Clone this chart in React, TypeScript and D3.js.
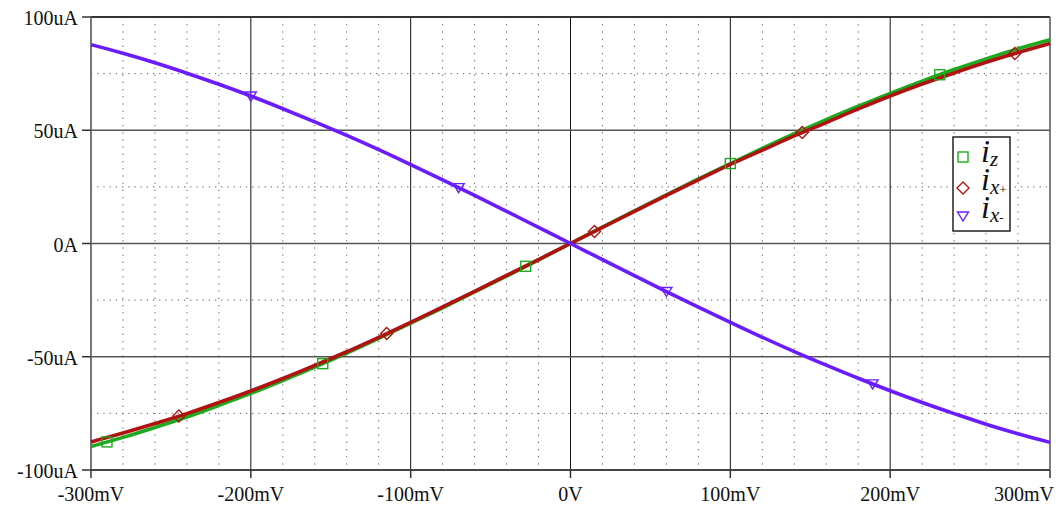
import React from "react";
import * as d3 from "d3";

// Sweep voltage (mV) and branch currents (uA)
const volts = [-300, -280, -260, -240, -220, -200, -180, -160, -140, -120, -100, -80, -60, -40, -20, 0, 20, 40, 60, 80, 100, 120, 140, 160, 180, 200, 220, 240, 260, 280, 300];
const iz = [-89.6, -85.6, -81.2, -76.6, -71.5, -66.2, -60.5, -54.6, -48.4, -41.9, -35.2, -28.4, -21.4, -14.4, -7.2, 0, 7.2, 14.4, 21.5, 28.5, 35.3, 42.0, 48.5, 54.7, 60.6, 66.3, 71.7, 76.8, 81.5, 86.0, 90.0];
const ixPlus = [-87.6, -83.7, -79.5, -75.1, -70.2, -65.1, -59.6, -53.8, -47.8, -41.4, -34.8, -28.0, -21.1, -14.1, -7.1, 0, 7.1, 14.2, 21.2, 28.1, 34.9, 41.2, 47.5, 53.4, 59.4, 65.1, 70.4, 75.3, 80.0, 84.3, 88.3];
const ixMinus = [87.8, 84.0, 79.8, 75.2, 70.3, 65.1, 59.5, 53.7, 47.7, 41.4, 34.8, 28.1, 21.2, 14.2, 7.1, 0, -7.1, -14.2, -21.2, -28.1, -34.8, -41.4, -47.7, -53.7, -59.5, -65.0, -70.2, -75.1, -79.8, -84.0, -87.8];

// Voltages where the trace symbols sit
const izMarks = [-290, -155, -28, 100, 231];
const ixPlusMarks = [-245, -115, 15, 145, 278];
const ixMinusMarks = [-200, -70, 60, 189];

const xTicks = [-300, -200, -100, 0, 100, 200, 300];
const xLabels = ["-300mV", "-200mV", "-100mV", "0V", "100mV", "200mV", "300mV"];
const yTicks = [-100, -50, 0, 50, 100];
const yLabels = ["-100uA", "-50uA", "0A", "50uA", "100uA"];
const xMinor = d3.range(-280, 300, 20).filter((v) => v % 100 !== 0);
const yMinor = [-75, -25, 25, 75];

const W = 1063;
const H = 507;
const L = 91;
const R = 1050;
const T = 17;
const B = 470;

const GREEN = "#1eaa1e";
const RED = "#b01212";
const PURPLE = "#6a1cff";
const FONT = "'Liberation Serif', 'Times New Roman', serif";

export default function App() {
  const x = d3.scaleLinear().domain([-300, 300]).range([L, R]);
  const y = d3.scaleLinear().domain([-100, 100]).range([B, T]);

  const line = (vals: number[]) =>
    d3
      .line<number>()
      .x((_, i) => x(volts[i]))
      .y((d) => y(d))
      .curve(d3.curveMonotoneX)(vals) || "";

  const at = (vals: number[]) => d3.scaleLinear().domain(volts).range(vals);

  const square = (cx: number, cy: number, key: string | number) => (
    <rect key={key} x={cx - 5} y={cy - 5} width={10} height={10} fill="none" stroke={GREEN} strokeWidth={1.4} />
  );
  const diamond = (cx: number, cy: number, key: string | number) => (
    <path key={key} d={`M${cx},${cy - 6}L${cx + 6},${cy}L${cx},${cy + 6}L${cx - 6},${cy}Z`} fill="none" stroke={RED} strokeWidth={1.4} />
  );
  const triangle = (cx: number, cy: number, key: string | number) => (
    <path key={key} d={`M${cx - 5.5},${cy - 4}L${cx + 5.5},${cy - 4}L${cx},${cy + 5}Z`} fill="none" stroke={PURPLE} strokeWidth={1.4} />
  );

  const izAt = at(iz);
  const ipAt = at(ixPlus);
  const imAt = at(ixMinus);

  return (
    <svg width={W} height={H} style={{ position: "absolute", left: 0, top: 0, background: "#fff" }} fontFamily={FONT}>
      <rect x={0} y={0} width={W} height={H} fill="#fff" />
      {/* minor dotted grid */}
      {xMinor.map((v) => (
        <line key={"xm" + v} x1={x(v)} x2={x(v)} y1={T} y2={B} stroke="#555" strokeWidth={1} strokeDasharray="1.2,6" />
      ))}
      {yMinor.map((v) => (
        <line key={"ym" + v} x1={L} x2={R} y1={y(v)} y2={y(v)} stroke="#555" strokeWidth={1} strokeDasharray="1.2,5" />
      ))}
      {/* major grid */}
      {xTicks.slice(1, -1).map((v) => (
        <line key={"xg" + v} x1={x(v)} x2={x(v)} y1={T} y2={B} stroke="#111" strokeWidth={1} />
      ))}
      {yTicks.slice(1, -1).map((v) => (
        <line key={"yg" + v} x1={L} x2={R} y1={y(v)} y2={y(v)} stroke="#555" strokeWidth={1.5} />
      ))}
      {/* frame */}
      <line x1={L} x2={R} y1={T} y2={T} stroke="#333" strokeWidth={2} />
      <line x1={R} x2={R} y1={T} y2={B} stroke="#555" strokeWidth={1.5} />
      <line x1={L} x2={L} y1={T} y2={B} stroke="#777" strokeWidth={2} />
      <line x1={L} x2={R} y1={B} y2={B} stroke="#444" strokeWidth={2} />
      {/* ticks and labels */}
      {yTicks.map((v, i) => (
        <g key={"yt" + v}>
          <line x1={L - 9} x2={L} y1={y(v)} y2={y(v)} stroke="#333" strokeWidth={1.5} />
          <text x={78} y={y(v) + 8} fontSize={20} textAnchor="end" fill="#111">
            {yLabels[i]}
          </text>
        </g>
      ))}
      {xTicks.map((v, i) => {
        const last = i === xTicks.length - 1;
        return (
          <g key={"xt" + v}>
            <line x1={x(v)} x2={x(v)} y1={B} y2={B + 8} stroke="#333" strokeWidth={1.5} />
            <text x={last ? W - 9 : x(v)} y={501} fontSize={20} textAnchor={last ? "end" : "middle"} fill="#111">
              {xLabels[i]}
            </text>
          </g>
        );
      })}
      {/* traces */}
      <path d={line(iz)} fill="none" stroke={GREEN} strokeWidth={3.6} />
      <path d={line(ixPlus)} fill="none" stroke={RED} strokeWidth={3.6} />
      <path d={line(ixMinus)} fill="none" stroke={PURPLE} strokeWidth={3.6} />
      {izMarks.map((v) => square(x(v), y(izAt(v)), "s" + v))}
      {ixPlusMarks.map((v) => diamond(x(v), y(ipAt(v)), "d" + v))}
      {ixMinusMarks.map((v) => triangle(x(v), y(imAt(v)), "t" + v))}
      {/* legend */}
      <rect x={953} y={137} width={57} height={94} fill="#fff" stroke="#222" strokeWidth={1.5} />
      {square(963, 157, "ls")}
      {diamond(963, 188, "ld")}
      {triangle(963, 216, "lt")}
      <text x={981} y={162} fontSize={32} fontStyle="italic" fill="#111">
        i<tspan fontSize={21} dy={4}>z</tspan>
      </text>
      <text x={981} y={190} fontSize={32} fontStyle="italic" fill="#111">
        i<tspan fontSize={21} dy={4}>x</tspan>
        <tspan fontSize={13} fontStyle="normal">+</tspan>
      </text>
      <text x={981} y={218} fontSize={32} fontStyle="italic" fill="#111">
        i<tspan fontSize={21} dy={4}>x</tspan>
        <tspan fontSize={13} fontStyle="normal">-</tspan>
      </text>
    </svg>
  );
}
